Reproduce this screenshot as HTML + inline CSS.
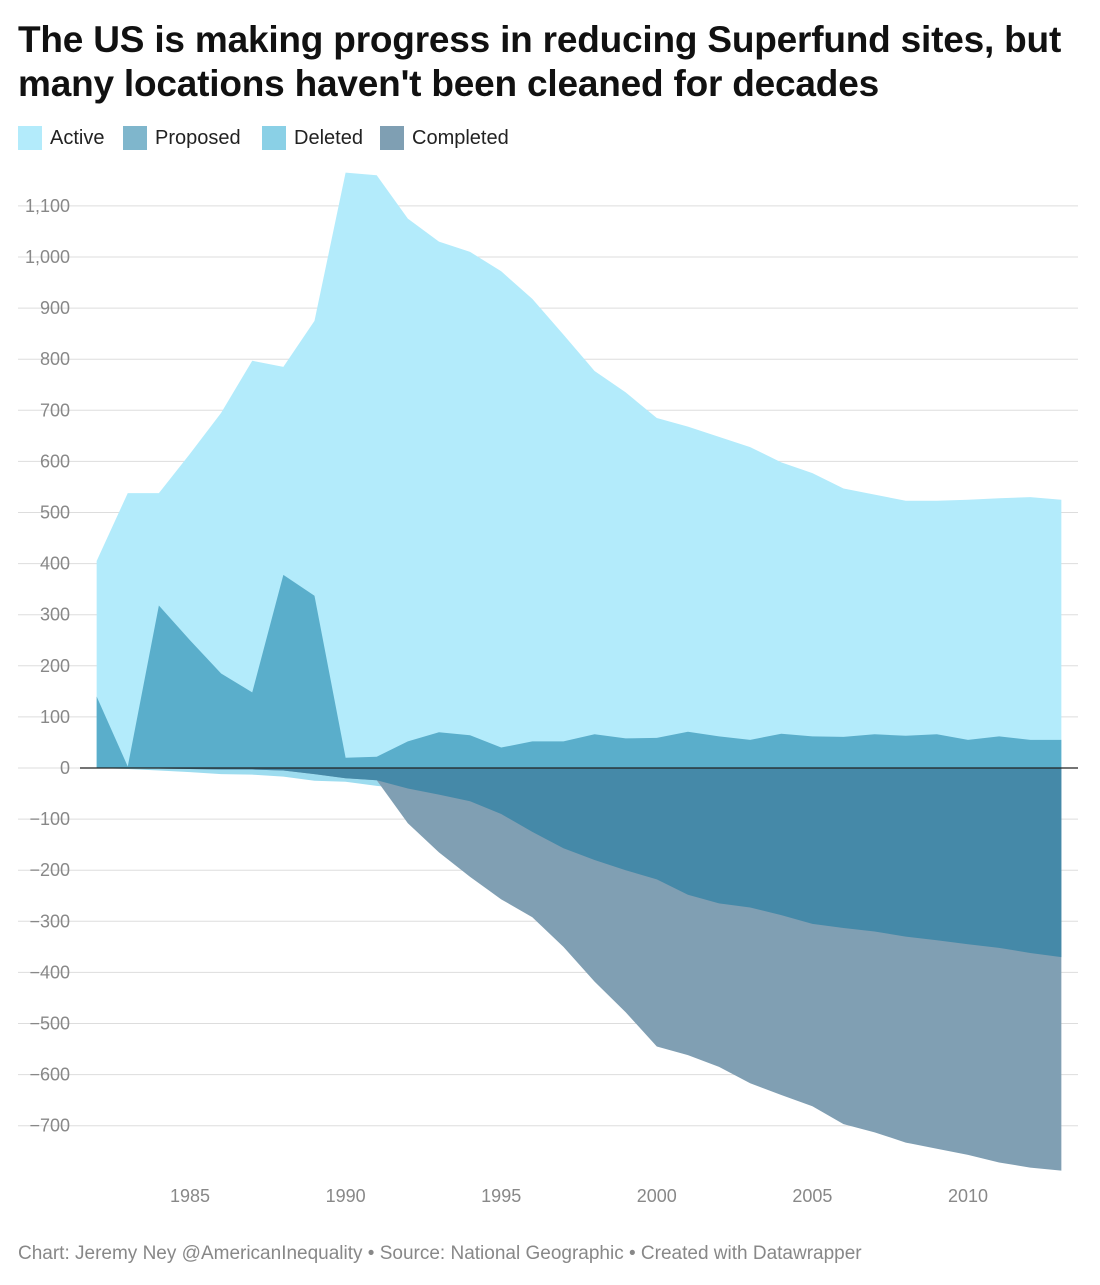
<!DOCTYPE html>
<html><head><meta charset="utf-8"><style>
body{margin:0;background:#fff;font-family:"Liberation Sans",sans-serif;}
#wrap{position:relative;width:1100px;height:1285px;overflow:hidden;}
h1{position:absolute;left:18px;top:18px;margin:0;font-size:37px;line-height:44px;font-weight:bold;color:#111;letter-spacing:-0.2px;}
.leg{position:absolute;top:126px;display:flex;align-items:center;font-size:20px;color:#222;}
.sw{width:24px;height:24px;margin-right:8px;}
#foot{position:absolute;left:18px;top:1243px;font-size:19px;color:#888;}
</style></head><body>
<div id="wrap">
<h1>The US is making progress in reducing Superfund sites, but<br>many locations haven't been cleaned for decades</h1>
<div class="leg" style="left:18px"><div class="sw" style="background:#b3ebfb"></div>Active</div>
<div class="leg" style="left:123px"><div class="sw" style="background:#7fb6cc"></div>Proposed</div>
<div class="leg" style="left:262px"><div class="sw" style="background:#8ad0e6"></div>Deleted</div>
<div class="leg" style="left:380px"><div class="sw" style="background:#7f9fb3"></div>Completed</div>
<svg id="chart" width="1100" height="1285" style="position:absolute;left:0;top:0"></svg>
<div id="foot">Chart: Jeremy Ney @AmericanInequality • Source: National Geographic • Created with Datawrapper</div>
</div>
<script>
const years=[1982,1983,1984,1985,1986,1987,1988,1989,1990,1991,1992,1993,1994,1995,1996,1997,1998,1999,2000,2001,2002,2003,2004,2005,2006,2007,2008,2009,2010,2011,2012,2013];
const active=[405,538,538,615,695,797,785,875,1165,1160,1075,1030,1010,972,918,848,777,735,685,668,648,628,598,577,547,535,523,523,525,528,530,525];
const proposed=[140,3,318,250,185,148,378,337,20,22,52,70,64,40,52,52,66,58,59,71,62,55,67,62,61,66,63,66,55,62,55,55];
const deleted=[0,-2,-5,-8,-12,-13,-17,-25,-27,-35,-40,-52,-65,-90,-125,-157,-180,-200,-218,-248,-265,-273,-288,-305,-313,-320,-330,-337,-345,-352,-362,-370];
const completed=[0,0,-1,-2,-3,-3,-5,-12,-20,-24,-108,-165,-213,-257,-292,-350,-418,-478,-545,-562,-585,-617,-640,-662,-697,-713,-733,-745,-757,-772,-782,-788];
const yTicks=[1100,1000,900,800,700,600,500,400,300,200,100,0,-100,-200,-300,-400,-500,-600,-700];
const xTicks=[1985,1990,1995,2000,2005,2010];
const NS='http://www.w3.org/2000/svg',svg=document.getElementById('chart');
const X=y=>190+(y-1985)*31.12, Y=v=>768-v*0.511;
function mk(t,a){const e=document.createElementNS(NS,t);for(const k in a)e.setAttribute(k,a[k]);svg.appendChild(e);return e;}
yTicks.forEach(v=>{
 const l=mk('line',{x1:18,x2:1078,y1:Y(v),y2:Y(v),stroke:'#ddd','stroke-width':1});
 
 
 const t=mk('text',{x:70,y:Y(v)+6,'text-anchor':'end','font-size':18,fill:'#888','font-family':'Liberation Sans'});
 t.textContent=v.toLocaleString('en-US').replace('-','−');
 
 
});
xTicks.forEach(v=>{
 const t=mk('text',{x:X(v),y:1202,'text-anchor':'middle','font-size':18,fill:'#888','font-family':'Liberation Sans'});
 t.textContent=v;
 
 
});
function area(vals,fill,name){
 let d='M'+X(years[0])+','+Y(0);
 vals.forEach((v,i)=>d+='L'+X(years[i])+','+Y(v));
 d+='L'+X(years[years.length-1])+','+Y(0)+'Z';
 const p=mk('path',{d:d,fill:fill});
 
 
}
area(active,'#b3ebfb','area-active');
area(proposed,'#5aaecb','area-proposed');
area(deleted,'#9ddcef','area-deleted');
area(completed,'#809fb3','area-completed');
area(deleted.map((v,i)=>Math.max(v,completed[i])),'#4589a8','area-deleted-completed-overlap');
const z=mk('line',{x1:80,x2:1078,y1:Y(0),y2:Y(0),stroke:'#222','stroke-width':1.3});


</script>
</body></html>
